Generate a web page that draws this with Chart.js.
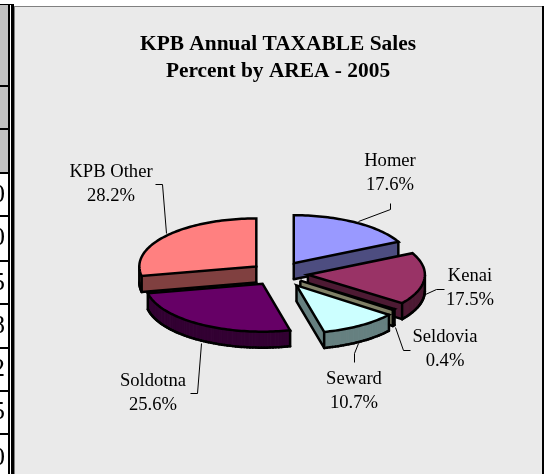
<!DOCTYPE html>
<html><head><meta charset="utf-8">
<style>html,body{margin:0;padding:0;background:#fff}canvas{display:block}</style>
<script src="https://cdn.jsdelivr.net/npm/chart.js@4"></script>
</head><body><canvas id="c" width="546" height="474"></canvas>
<script>
const categories = ['Homer','Kenai','Seldovia','Seward','Soldotna','KPB Other'];
const percents = [17.6,17.5,0.4,10.7,25.6,28.2];
const topColors = ['#9999FF','#993366','#FFFFCC','#CCFFFF','#660066','#FF8080'];
const sideColors = ['#4D4D80','#4D1A33','#808066','#668080','#330033','#804040'];
const explode = [120,120,112,136,116,112];
const titleLines = ['KPB Annual TAXABLE Sales','Percent by AREA - 2005'];
const tableDigits = ['0','0','5','8','2','5','0'];

const tilt = 0.41, depth = 16;
const labelSpots = {
  'Homer':{x:390,y:161,lead:[[358,221],[390,209],[390,203]]},
  'Kenai':{x:470,y:276,lead:[[425,294],[436,289],[444,289]]},
  'Seldovia':{x:445,y:337,lead:[[395,327],[403,350],[410,350]]},
  'Seward':{x:354,y:379,lead:[[358,343],[354,353],[354,362]]},
  'Soldotna':{x:153,y:381,lead:[[201,343],[197,393],[190,393]]},
  'KPB Other':{x:111,y:172,lead:[[166,233],[162,184],[155,184]]}
};

const page = {
  id:'page',
  beforeDraw(chart){
    const g = chart.ctx;
    g.save();
    g.fillStyle='#fff'; g.fillRect(0,0,546,474);
    g.fillStyle='#C0C0C0'; g.fillRect(0,5,8,169);
    g.fillStyle='#000';
    g.fillRect(0,4,12,1);
    [85,128,172,215,260,303,347,390,433].forEach(y=>g.fillRect(0,y,8,2));
    g.font='26px "Liberation Serif"'; g.textAlign='right'; g.textBaseline='middle';
    const rowY=[195,238,283,326,369,412,458];
    tableDigits.forEach((d,i)=>g.fillText(d,5,rowY[i]));
    g.fillRect(8,4,2,470); g.fillRect(11,4,3,470);
    g.fillStyle='#EAEAEA'; g.fillRect(14,6,529,468);
    g.fillStyle='#808080'; g.fillRect(14,6,1,468); g.fillRect(14,6,529,1);
    g.fillStyle='#000'; g.fillRect(542,6,2,468);
    g.restore();
  }
};

const pie3d = {
  id:'pie3d',
  beforeDatasetDraw(chart,args){
    const g = chart.ctx, arcs = args.meta.data.map((a,i)=>({a,i}));
    g.save();
    g.lineJoin='miter'; g.strokeStyle='#000';
    const edge = 2.5;
    const item = arcs.map(({a,i})=>{
      const mid=(a.startAngle+a.endAngle)/2, d=(a.options.offset||0)/4;
      const ox=a.x+Math.cos(mid)*d, oy=a.y+Math.sin(mid)*d*tilt;
      const pts=[[ox,oy]];
      const n=Math.max(2,Math.ceil((a.endAngle-a.startAngle)*40));
      for(let s=0;s<=n;s++){
        const t=a.startAngle+(a.endAngle-a.startAngle)*s/n;
        pts.push([ox+a.outerRadius*Math.cos(t),oy+tilt*a.outerRadius*Math.sin(t)]);
      }
      return {i,pts,oy:oy};
    }).sort((p,q)=>p.oy-q.oy);
    item.forEach(({i,pts})=>{
      const L=pts.length;
      const facing=pts.map((p,s)=>pts[(s+1)%L][0]-p[0]<-1e-6);
      g.fillStyle=sideColors[i];
      pts.forEach((p,s)=>{
        if(!facing[s])return;
        const q=pts[(s+1)%L];
        g.beginPath();g.moveTo(p[0],p[1]);g.lineTo(q[0],q[1]);g.lineTo(q[0],q[1]+depth);g.lineTo(p[0],p[1]+depth);g.closePath();
        g.fill();
        g.lineWidth=1;g.strokeStyle=sideColors[i];g.stroke();
      });
      g.lineWidth=edge;g.strokeStyle='#000';
      pts.forEach((p,s)=>{
        const prev=facing[(s-1+L)%L], cur=facing[s];
        if(cur){const q=pts[(s+1)%L];g.beginPath();g.moveTo(p[0],p[1]+depth);g.lineTo(q[0],q[1]+depth);g.lineCap='round';g.stroke();}
        if(prev!==cur||(cur&&(s===0||s===1||s===L-1))){g.beginPath();g.moveTo(p[0],p[1]);g.lineTo(p[0],p[1]+depth);g.stroke();}
      });
      g.beginPath();
      pts.forEach((p,s)=>s?g.lineTo(p[0],p[1]):g.moveTo(p[0],p[1]));
      g.closePath();
      g.fillStyle=topColors[i];g.fill();
      g.lineCap='butt';g.stroke();
    });
    g.restore();
    return false;
  },
  afterDatasetsDraw(chart){
    const g=chart.ctx;
    g.save();
    g.strokeStyle='#000';g.lineWidth=1;
    g.fillStyle='#000';
    g.font='18.6px "Liberation Serif"';g.textAlign='center';g.textBaseline='middle';
    categories.forEach((name,i)=>{
      const s=labelSpots[name];
      g.beginPath();
      s.lead.forEach((p,j)=>j?g.lineTo(p[0]+.5,p[1]+.5):g.moveTo(p[0]+.5,p[1]+.5));
      g.stroke();
      g.fillText(name,s.x,s.y);
      g.fillText(percents[i].toFixed(1)+'%',s.x,s.y+24);
    });
    g.restore();
  }
};

new Chart(document.getElementById('c'),{
  type:'pie',
  data:{labels:categories,datasets:[{data:percents,backgroundColor:topColors,offset:explode,borderColor:'#000',borderWidth:2}]},
  options:{
    responsive:false,animation:false,
    radius:117,
    layout:{padding:{left:14,right:4,top:31,bottom:12}},
    plugins:{
      legend:{display:false},tooltip:{enabled:false},
      title:{display:true,text:titleLines,color:'#000',padding:0,font:{family:'"Liberation Serif"',size:21.4,weight:'bold',lineHeight:1.27}}
    }
  },
  plugins:[page,pie3d]
});
</script></body></html>
